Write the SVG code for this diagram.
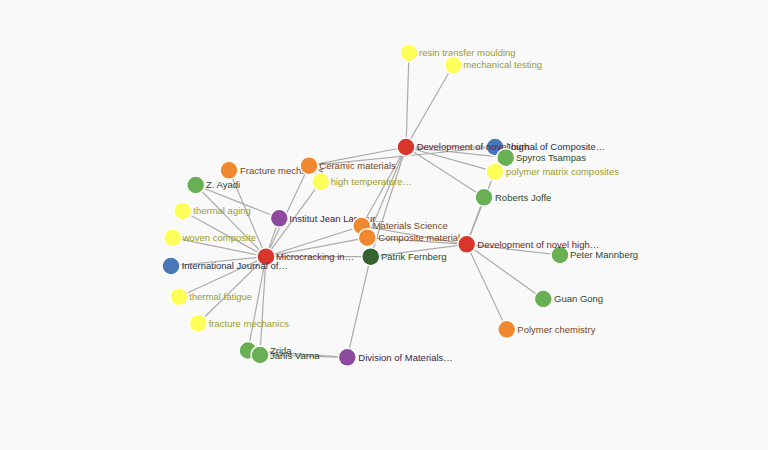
<svg xmlns="http://www.w3.org/2000/svg" width="768" height="450" viewBox="0 0 768 450">
<style>
.bg{fill:#f9f9f9}
.links line{stroke:#ababab;stroke-width:1.2}
circle{stroke:#fff;stroke-width:1.5}
text{font-family:"Liberation Sans",Arial,sans-serif;font-size:9.5px}
.red circle{fill:#d9362b}.red text{fill:#6b1f1a}
.org circle{fill:#f0882f}.org text{fill:#77441b}
.yel circle{fill:#ffff59}.yel text{fill:#9c9c2a}
.grn circle{fill:#69b054}.grn text{fill:#2f4a2c}
.blu circle{fill:#4878b8}.blu text{fill:#21334d}
.pur circle{fill:#8e4b9e}.pur text{fill:#3e1d46}
.dgr circle{fill:#356330}.dgr text{fill:#284a26}
</style>
<rect class="bg" width="768" height="450"/>
<g class="links">
<line x1="406" y1="147" x2="409" y2="52.7"/>
<line x1="406" y1="147" x2="453.3" y2="65"/>
<line x1="406" y1="147" x2="495" y2="147"/>
<line x1="406" y1="147" x2="505.7" y2="157.7"/>
<line x1="406" y1="147" x2="495" y2="171.7"/>
<line x1="406" y1="147" x2="484" y2="197.3"/>
<line x1="406" y1="147" x2="309" y2="165.7"/>
<line x1="495" y1="147" x2="309" y2="165.7"/>
<line x1="406" y1="147" x2="361.7" y2="226"/>
<line x1="406" y1="147" x2="367.3" y2="237.7"/>
<line x1="406" y1="147" x2="370.7" y2="256.7"/>
<line x1="266" y1="256.7" x2="195.7" y2="185"/>
<line x1="266" y1="256.7" x2="229" y2="170.3"/>
<line x1="266" y1="256.7" x2="309" y2="165.7"/>
<line x1="266" y1="256.7" x2="320.7" y2="181.7"/>
<line x1="266" y1="256.7" x2="182.7" y2="211"/>
<line x1="266" y1="256.7" x2="172.7" y2="237.7"/>
<line x1="266" y1="256.7" x2="171" y2="266"/>
<line x1="266" y1="256.7" x2="179" y2="296.7"/>
<line x1="266" y1="256.7" x2="198.3" y2="323.3"/>
<line x1="266" y1="256.7" x2="248" y2="350.5"/>
<line x1="266" y1="256.7" x2="260" y2="355"/>
<line x1="266" y1="256.7" x2="279.3" y2="218.3"/>
<line x1="266" y1="256.7" x2="361.7" y2="226"/>
<line x1="266" y1="256.7" x2="367.3" y2="237.7"/>
<line x1="266" y1="256.7" x2="370.7" y2="256.7"/>
<line x1="195.7" y1="185" x2="279.3" y2="218.3"/>
<line x1="466.7" y1="244.3" x2="484" y2="197.3"/>
<line x1="466.7" y1="244.3" x2="495" y2="171.7"/>
<line x1="466.7" y1="244.3" x2="560" y2="255"/>
<line x1="466.7" y1="244.3" x2="543.3" y2="299"/>
<line x1="466.7" y1="244.3" x2="506.7" y2="329.3"/>
<line x1="466.7" y1="244.3" x2="361.7" y2="226"/>
<line x1="466.7" y1="244.3" x2="367.3" y2="237.7"/>
<line x1="466.7" y1="244.3" x2="370.7" y2="256.7"/>
<line x1="347.3" y1="357.3" x2="248" y2="350.5"/>
<line x1="347.3" y1="357.3" x2="260" y2="355"/>
<line x1="347.3" y1="357.3" x2="370.7" y2="256.7"/>
</g>
<g class="nodes">
<g id="n-resin" class="yel"><circle cx="409" cy="52.7" r="9"/><text x="419" y="56">resin transfer moulding</text></g>
<g id="n-mech" class="yel"><circle cx="453.3" cy="65" r="9"/><text x="463.3" y="68.3">mechanical testing</text></g>
<g id="n-journal" class="blu"><circle cx="495" cy="147" r="9"/><text x="506" y="150.3">Journal of Composite…</text></g>
<g id="n-dev1" class="red"><circle cx="406" cy="147" r="9"/><text x="416.7" y="150.3">Development of novel high…</text></g>
<g id="n-spyros" class="grn"><circle cx="505.7" cy="157.7" r="9"/><text x="516" y="161">Spyros Tsampas</text></g>
<g id="n-pmc" class="yel"><circle cx="495" cy="171.7" r="9"/><text x="506" y="175">polymer matrix composites</text></g>
<g id="n-joffe" class="grn"><circle cx="484" cy="197.3" r="9"/><text x="495" y="200.6">Roberts Joffe</text></g>
<g id="n-fracmech" class="org"><circle cx="229" cy="170.3" r="9"/><text x="240" y="173.6">Fracture mechanics</text></g>
<g id="n-ceramic" class="org"><circle cx="309" cy="165.7" r="9"/><text x="319.3" y="169">Ceramic materials</text></g>
<g id="n-hightemp" class="yel"><circle cx="320.7" cy="181.7" r="9"/><text x="330.7" y="185">high temperature…</text></g>
<g id="n-ayadi" class="grn"><circle cx="195.7" cy="185" r="9"/><text x="206" y="188.3">Z. Ayadi</text></g>
<g id="n-aging" class="yel"><circle cx="182.7" cy="211" r="9"/><text x="193.3" y="214.3">thermal aging</text></g>
<g id="n-institut" class="pur"><circle cx="279.3" cy="218.3" r="9"/><text x="289.3" y="221.6">Institut Jean Lamour…</text></g>
<g id="n-woven" class="yel"><circle cx="172.7" cy="237.7" r="9"/><text x="182.7" y="241">woven composite</text></g>
<g id="n-matsci" class="org"><circle cx="361.7" cy="226" r="9"/><text x="372.7" y="229.3">Materials Science</text></g>
<g id="n-composite" class="org"><circle cx="367.3" cy="237.7" r="9"/><text x="378.3" y="241">Composite material</text></g>
<g id="n-micro" class="red"><circle cx="266" cy="256.7" r="9"/><text x="276" y="260">Microcracking in…</text></g>
<g id="n-fernberg" class="dgr"><circle cx="370.7" cy="256.7" r="9"/><text x="381" y="260">Patrik Fernberg</text></g>
<g id="n-intjournal" class="blu"><circle cx="171" cy="266" r="9"/><text x="181.7" y="269.3">International Journal of…</text></g>
<g id="n-fatigue" class="yel"><circle cx="179" cy="296.7" r="9"/><text x="189.3" y="300">thermal fatigue</text></g>
<g id="n-fracture" class="yel"><circle cx="198.3" cy="323.3" r="9"/><text x="208.7" y="326.6">fracture mechanics</text></g>
<g id="n-peter" class="grn"><circle cx="560" cy="255" r="9"/><text x="570" y="258.3">Peter Mannberg</text></g>
<g id="n-dev2" class="red"><circle cx="466.7" cy="244.3" r="9"/><text x="477.3" y="247.6">Development of novel high…</text></g>
<g id="n-guan" class="grn"><circle cx="543.3" cy="299" r="9"/><text x="554" y="302.3">Guan Gong</text></g>
<g id="n-polychem" class="org"><circle cx="506.7" cy="329.3" r="9"/><text x="517.3" y="332.6">Polymer chemistry</text></g>
<g id="n-zrida" class="grn"><circle cx="248" cy="350.5" r="9"/><text x="270" y="354">Zrida</text></g>
<g id="n-varna" class="grn"><circle cx="260" cy="355" r="9"/><text x="270" y="358.8">Janis Varna</text></g>
<g id="n-division" class="pur"><circle cx="347.3" cy="357.3" r="9"/><text x="358.3" y="360.6">Division of Materials…</text></g>
</g>
</svg>
